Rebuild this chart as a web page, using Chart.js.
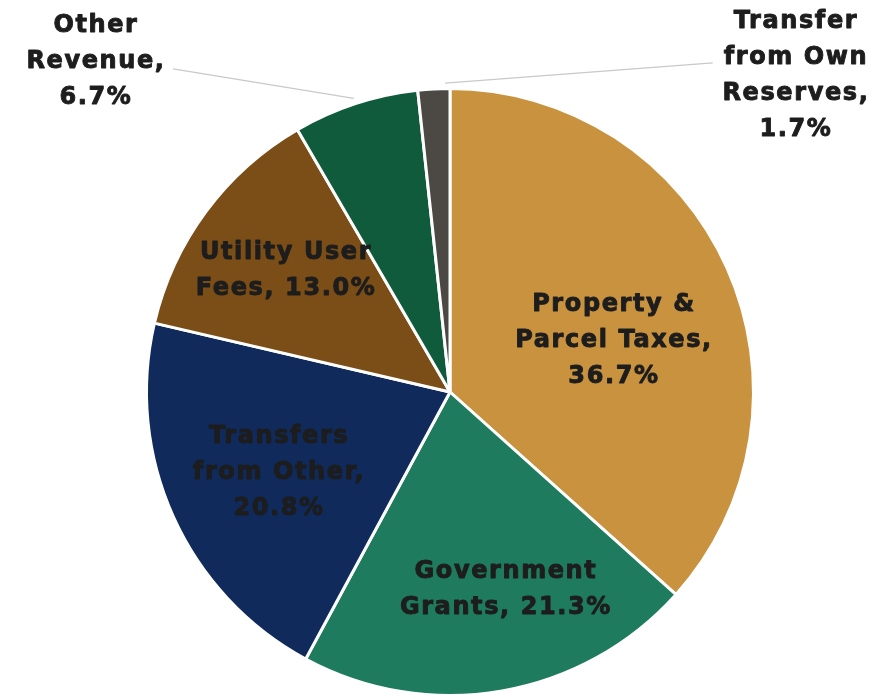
<!DOCTYPE html>
<html>
<head>
<meta charset="utf-8">
<title>Revenue Sources</title>
<script src="https://cdn.jsdelivr.net/npm/chart.js@4/dist/chart.umd.min.js"></script>
<style>
  html, body { margin: 0; padding: 0; background: #ffffff; }
  #revenueChart { display: block; }
</style>
</head>
<body>
<canvas id="revenueChart" width="893" height="699"></canvas>
<script>
// ==================== Data ====================

const categories = [
  "Property & Parcel Taxes",
  "Government Grants",
  "Transfers from Other",
  "Utility User Fees",
  "Other Revenue",
  "Transfer from Own Reserves",
];
const shares = [36.7, 21.3, 20.8, 13.0, 6.7, 1.7];
const labelLines = [
  ["Property &", "Parcel Taxes,", "36.7%"],
  ["Government", "Grants, 21.3%"],
  ["Transfers", "from Other,", "20.8%"],
  ["Utility User", "Fees, 13.0%"],
  ["Other", "Revenue,", "6.7%"],
  ["Transfer", "from Own", "Reserves,", "1.7%"],
];
const sliceColors = ["#c8923f", "#1f7b5d", "#0f2a5b", "#7b4d17", "#0f5b3b", "#4c4945"];

// ==================== Label placement ====================

// angle in degrees clockwise from 12 o'clock, r as a fraction of the pie radius
const LABEL_SPOTS = [
  { angle: 72.6, r: 0.56 },
  { angle: 164.5, r: 0.674 },
  { angle: 244.8, r: 0.623 },
  { angle: 306.3, r: 0.671 },
  { angle: 312.9, r: 1.589, leader: { angle: 319.4, r: 1.395 } },
  { angle: 47.5, r: 1.534, leader: { angle: 38.6, r: 1.381, from: 0.85 } },
];

const LINE_HEIGHT = 36;

function polar(cx, cy, angleDeg, dist) {
  const a = (angleDeg * Math.PI) / 180;
  return { x: cx + dist * Math.sin(a), y: cy - dist * Math.cos(a) };
}

const sliceLabels = {
  id: "sliceLabels",
  afterDatasetsDraw(chart) {
    const { ctx } = chart;
    const arcs = chart.getDatasetMeta(0).data;
    if (!arcs.length) return;
    const cx = arcs[0].x;
    const cy = arcs[0].y;
    const radius = arcs[0].outerRadius + 1.5;

    ctx.save();

    // leader lines for the two small slices; "from" picks a point along the arc (0..1)
    arcs.forEach((arc, i) => {
      const spot = LABEL_SPOTS[i];
      if (!spot.leader) return;
      const t = spot.leader.from ?? 0.5;
      const a = (arc.startAngle + (arc.endAngle - arc.startAngle) * t) * 180 / Math.PI + 90;
      const from = polar(cx, cy, a, radius + 4);
      const to = polar(cx, cy, spot.leader.angle, radius * spot.leader.r);
      ctx.beginPath();
      ctx.moveTo(from.x, from.y);
      ctx.lineTo(to.x, to.y);
      ctx.strokeStyle = "#c9c9c9";
      ctx.lineWidth = 1.2;
      ctx.stroke();
    });

    ctx.font = "bold 24px 'DejaVu Sans', sans-serif";
    if ("letterSpacing" in ctx) ctx.letterSpacing = "1.6px";
    ctx.textAlign = "center";
    ctx.textBaseline = "middle";
    ctx.fillStyle = "#1d1d1d";
    ctx.strokeStyle = "#1d1d1d";
    ctx.lineWidth = 0.9;
    ctx.lineJoin = "round";

    labelLines.forEach((lines, i) => {
      const spot = LABEL_SPOTS[i];
      const c = polar(cx, cy, spot.angle, radius * spot.r);
      const top = c.y - ((lines.length - 1) * LINE_HEIGHT) / 2;
      lines.forEach((line, j) => {
        ctx.fillText(line, c.x + 1, top + j * LINE_HEIGHT);
        ctx.strokeText(line, c.x + 1, top + j * LINE_HEIGHT);
      });
    });

    ctx.restore();
  },
};

// ==================== Chart ====================

new Chart(document.getElementById("revenueChart"), {
  type: "pie",
  data: {
    labels: categories,
    datasets: [{
      data: shares,
      backgroundColor: sliceColors,
      borderColor: "#ffffff",
      borderWidth: 3,
    }],
  },
  options: {
    responsive: false,
    animation: false,
    layout: { padding: { top: 87, bottom: 2, left: 7, right: 0 } },
    plugins: {
      legend: { display: false },
      tooltip: { enabled: false },
    },
  },
  plugins: [sliceLabels],
});
</script>
</body>
</html>
